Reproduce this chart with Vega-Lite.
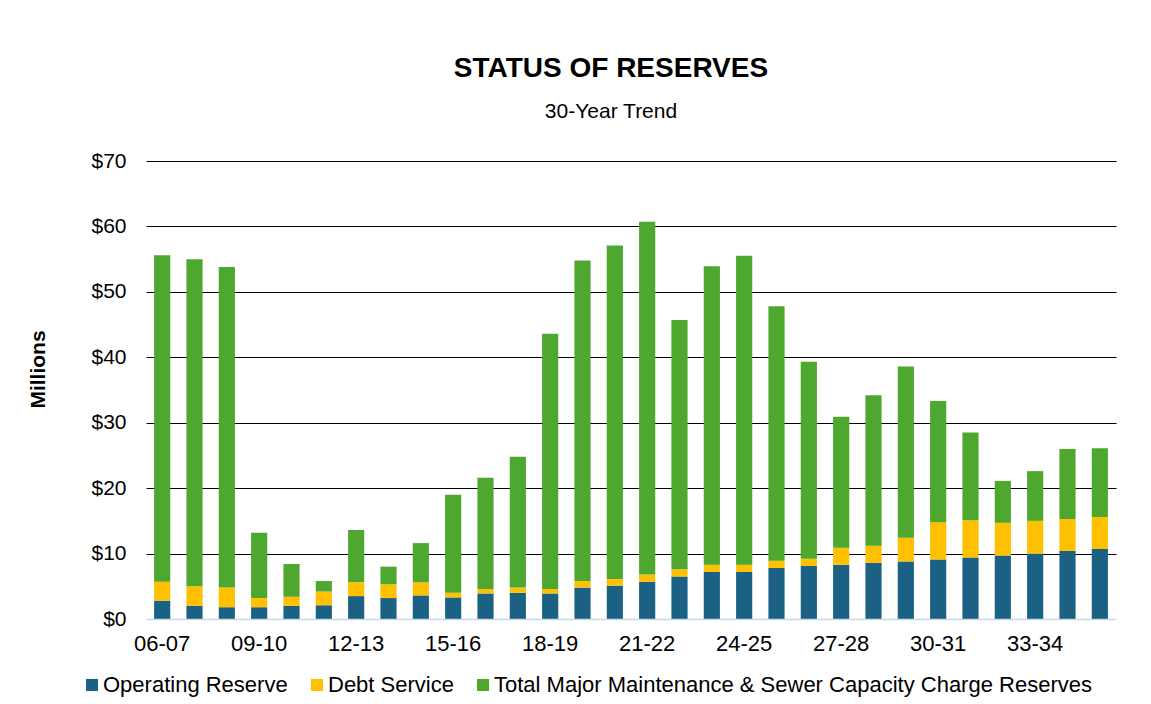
{
  "$schema": "https://vega.github.io/schema/vega-lite/v6.json",
  "width": 970,
  "height": 458,
  "autosize": {"type": "none"},
  "padding": {"left": 146, "top": 161, "right": 35, "bottom": 85},
  "background": "white",
  "config": {"font": "Liberation Sans", "view": {"stroke": null}},
  "title": {
    "text": "STATUS OF RESERVES",
    "subtitle": "30-Year Trend",
    "font": "Liberation Sans",
    "subtitleFont": "Liberation Sans",
    "fontSize": 28,
    "fontWeight": "bold",
    "subtitleFontSize": 21,
    "color": "black",
    "subtitleColor": "black",
    "anchor": "middle",
    "frame": "group",
    "offset": 28,
    "subtitlePadding": 18,
    "dx": -20
  },
  "data": {
    "values": [
      {"year": "06-07", "Operating Reserve": 2.8, "Debt Service": 2.9, "Total Major Maintenance & Sewer Capacity Charge Reserves": 49.9},
      {"year": "07-08", "Operating Reserve": 2.0, "Debt Service": 3.0, "Total Major Maintenance & Sewer Capacity Charge Reserves": 50.0},
      {"year": "08-09", "Operating Reserve": 1.8, "Debt Service": 3.0, "Total Major Maintenance & Sewer Capacity Charge Reserves": 49.0},
      {"year": "09-10", "Operating Reserve": 1.8, "Debt Service": 1.4, "Total Major Maintenance & Sewer Capacity Charge Reserves": 10.0},
      {"year": "10-11", "Operating Reserve": 2.0, "Debt Service": 1.4, "Total Major Maintenance & Sewer Capacity Charge Reserves": 5.0},
      {"year": "11-12", "Operating Reserve": 2.1, "Debt Service": 2.1, "Total Major Maintenance & Sewer Capacity Charge Reserves": 1.6},
      {"year": "12-13", "Operating Reserve": 3.5, "Debt Service": 2.1, "Total Major Maintenance & Sewer Capacity Charge Reserves": 8.0},
      {"year": "13-14", "Operating Reserve": 3.2, "Debt Service": 2.1, "Total Major Maintenance & Sewer Capacity Charge Reserves": 2.7},
      {"year": "14-15", "Operating Reserve": 3.6, "Debt Service": 2.0, "Total Major Maintenance & Sewer Capacity Charge Reserves": 6.0},
      {"year": "15-16", "Operating Reserve": 3.3, "Debt Service": 0.7, "Total Major Maintenance & Sewer Capacity Charge Reserves": 15.0},
      {"year": "16-17", "Operating Reserve": 3.9, "Debt Service": 0.7, "Total Major Maintenance & Sewer Capacity Charge Reserves": 17.0},
      {"year": "17-18", "Operating Reserve": 4.0, "Debt Service": 0.8, "Total Major Maintenance & Sewer Capacity Charge Reserves": 20.0},
      {"year": "18-19", "Operating Reserve": 3.9, "Debt Service": 0.7, "Total Major Maintenance & Sewer Capacity Charge Reserves": 39.0},
      {"year": "19-20", "Operating Reserve": 4.8, "Debt Service": 1.0, "Total Major Maintenance & Sewer Capacity Charge Reserves": 49.0},
      {"year": "20-21", "Operating Reserve": 5.1, "Debt Service": 1.0, "Total Major Maintenance & Sewer Capacity Charge Reserves": 51.0},
      {"year": "21-22", "Operating Reserve": 5.7, "Debt Service": 1.1, "Total Major Maintenance & Sewer Capacity Charge Reserves": 53.9},
      {"year": "22-23", "Operating Reserve": 6.5, "Debt Service": 1.1, "Total Major Maintenance & Sewer Capacity Charge Reserves": 38.1},
      {"year": "23-24", "Operating Reserve": 7.2, "Debt Service": 1.1, "Total Major Maintenance & Sewer Capacity Charge Reserves": 45.6},
      {"year": "24-25", "Operating Reserve": 7.2, "Debt Service": 1.1, "Total Major Maintenance & Sewer Capacity Charge Reserves": 47.2},
      {"year": "25-26", "Operating Reserve": 7.8, "Debt Service": 1.1, "Total Major Maintenance & Sewer Capacity Charge Reserves": 38.9},
      {"year": "26-27", "Operating Reserve": 8.1, "Debt Service": 1.1, "Total Major Maintenance & Sewer Capacity Charge Reserves": 30.1},
      {"year": "27-28", "Operating Reserve": 8.3, "Debt Service": 2.6, "Total Major Maintenance & Sewer Capacity Charge Reserves": 20.0},
      {"year": "28-29", "Operating Reserve": 8.6, "Debt Service": 2.6, "Total Major Maintenance & Sewer Capacity Charge Reserves": 23.0},
      {"year": "29-30", "Operating Reserve": 8.8, "Debt Service": 3.6, "Total Major Maintenance & Sewer Capacity Charge Reserves": 26.2},
      {"year": "30-31", "Operating Reserve": 9.1, "Debt Service": 5.7, "Total Major Maintenance & Sewer Capacity Charge Reserves": 18.5},
      {"year": "31-32", "Operating Reserve": 9.4, "Debt Service": 5.7, "Total Major Maintenance & Sewer Capacity Charge Reserves": 13.4},
      {"year": "32-33", "Operating Reserve": 9.7, "Debt Service": 5.0, "Total Major Maintenance & Sewer Capacity Charge Reserves": 6.4},
      {"year": "33-34", "Operating Reserve": 10.0, "Debt Service": 5.0, "Total Major Maintenance & Sewer Capacity Charge Reserves": 7.6},
      {"year": "34-35", "Operating Reserve": 10.4, "Debt Service": 4.9, "Total Major Maintenance & Sewer Capacity Charge Reserves": 10.7},
      {"year": "35-36", "Operating Reserve": 10.7, "Debt Service": 4.9, "Total Major Maintenance & Sewer Capacity Charge Reserves": 10.5}
    ]
  },
  "transform": [
    {"fold": ["Operating Reserve", "Debt Service", "Total Major Maintenance & Sewer Capacity Charge Reserves"], "as": ["series", "value"]},
    {"window": [{"op": "row_number", "as": "stackRank"}], "groupby": ["year"]}
  ],
  "mark": {"type": "bar"},
  "encoding": {
    "x": {
      "field": "year",
      "type": "ordinal",
      "sort": null,
      "scale": {"paddingInner": 0.5, "paddingOuter": 0.25},
      "axis": {
        "title": null,
        "values": ["06-07", "09-10", "12-13", "15-16", "18-19", "21-22", "24-25", "27-28", "30-31", "33-34"],
        "labelAngle": 0,
        "labelFontSize": 22,
        "labelColor": "black",
        "ticks": false,
        "domainColor": "#c5d9ee",
        "domainWidth": 1.5,
        "labelPadding": 14,
        "zindex": 1
      }
    },
    "y": {
      "field": "value",
      "type": "quantitative",
      "scale": {"domain": [0, 70], "nice": false},
      "axis": {
        "values": [0, 10, 20, 30, 40, 50, 60, 70],
        "labelExpr": "'$' + datum.value",
        "labelFontSize": 21,
        "labelColor": "black",
        "ticks": false,
        "domain": false,
        "labelPadding": 20,
        "gridColor": {"condition": {"test": "datum.value === 0", "value": "transparent"}, "value": "black"},
        "gridOpacity": 1,
        "title": "Millions",
        "titleFontSize": 21,
        "titleFontWeight": "bold",
        "titleColor": "black",
        "titleX": -108,
        "titleY": 208,
        "titleAngle": -90,
        "titleAlign": "center",
        "titleBaseline": "middle"
      }
    },
    "order": {"field": "stackRank", "type": "quantitative", "sort": "ascending"},
    "color": {
      "field": "series",
      "type": "nominal",
      "sort": ["Operating Reserve", "Debt Service", "Total Major Maintenance & Sewer Capacity Charge Reserves"],
      "scale": {
        "domain": ["Operating Reserve", "Debt Service", "Total Major Maintenance & Sewer Capacity Charge Reserves"],
        "range": ["#1b6183", "#ffc000", "#4ea72e"]
      },
      "legend": {
        "title": null,
        "orient": "none",
        "legendX": -65,
        "legendY": 513,
        "direction": "horizontal",
        "symbolType": "square",
        "symbolSize": 144,
        "symbolStrokeWidth": 0,
        "labelFontSize": 22,
        "labelColor": "black",
        "labelLimit": 0,
        "labelOffset": 0,
        "columnPadding": 18
      }
    }
  }
}
